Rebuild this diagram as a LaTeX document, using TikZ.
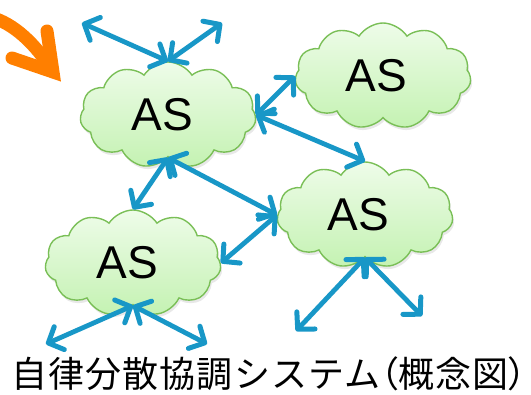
\documentclass[tikz,border=0pt]{standalone}
\usepackage{fontspec}
\setmainfont{Liberation Sans}
\newfontfamily\cjkfont[LetterSpace=3]{Noto Sans CJK JP}
\usetikzlibrary{shapes.symbols,arrows.meta,shadows}
\definecolor{asblue}{HTML}{1897C7}
\definecolor{asorange}{HTML}{FF7F00}
\definecolor{cloudline}{HTML}{7ABF57}
\definecolor{cloudtop}{HTML}{EEFCE9}
\definecolor{cloudbot}{HTML}{C4F2B2}
\tikzset{
  ascloud/.style={cloud, cloud puffs=11, cloud puff arc=115, cloud ignores aspect,
    minimum width=176pt, minimum height=106pt, inner sep=0pt,
    draw=cloudline, line width=1.4pt, top color=cloudtop, bottom color=cloudbot,
    drop shadow={opacity=0.18, shadow xshift=1.5pt, shadow yshift=-3pt},
    font=\fontsize{46}{50}\selectfont},
  barb/.tip={Straight Barb[length=12pt,width=25pt,line width=5pt 0,line cap=round,line join=round]},
  link/.style={asblue, line width=4.8pt, line cap=round, barb-barb},
}
\begin{document}
\begin{tikzpicture}[x=1pt,y=-1pt]
\useasboundingbox (0,0) rectangle (531,395);
% orange arrow
\draw[asorange, line width=13pt, line cap=round] (-10,17) .. controls (14,23) and (36,45) .. (51,69);
\draw[asorange, line width=13pt, line cap=round, line join=miter] (47,31) -- (53,72) -- (12,58);
% clouds
\node[ascloud] (c1) at (168,115) {AS\hspace*{12pt}};
\node[ascloud] (c2) at (383,76) {AS\hspace*{13pt}};
\node[ascloud] (c3) at (365,215) {AS\hspace*{13pt}};
\node[ascloud] (c4) at (133,263) {AS\hspace*{11pt}};
% free ends
\coordinate (a1) at (82,23);
\coordinate (a2) at (222,23);
\coordinate (b1) at (46,344);
\coordinate (b2) at (207,344);
\coordinate (d1) at (296,331);
\coordinate (d2) at (422,316);
% links
\draw[link] (a1) -- (c1.north);
\draw[link] (a2) -- (c1.north);
\draw[link] (c1.east) -- (c2.west);
\draw[link] (c1.east) -- (c3.north);
\draw[link] (c1.south) -- (c4.north);
\draw[link] (c1.south) -- (c3.west);
\draw[link] (c3.west) -- (c4.east);
\draw[link] (c4.south) -- (b1);
\draw[link] (c4.south) -- (b2);
\draw[link] (c3.south) -- (d1);
\draw[link] (c3.south) -- (d2);
% caption
\node[font=\cjkfont\fontsize{36}{40}\selectfont, inner sep=0pt, anchor=base] (cap) at (269,388)
  {自律分散協調システム{\addfontfeature{RawFeature=+palt}（}概念図{\addfontfeature{RawFeature=+palt}）}};
\end{tikzpicture}
\end{document}
